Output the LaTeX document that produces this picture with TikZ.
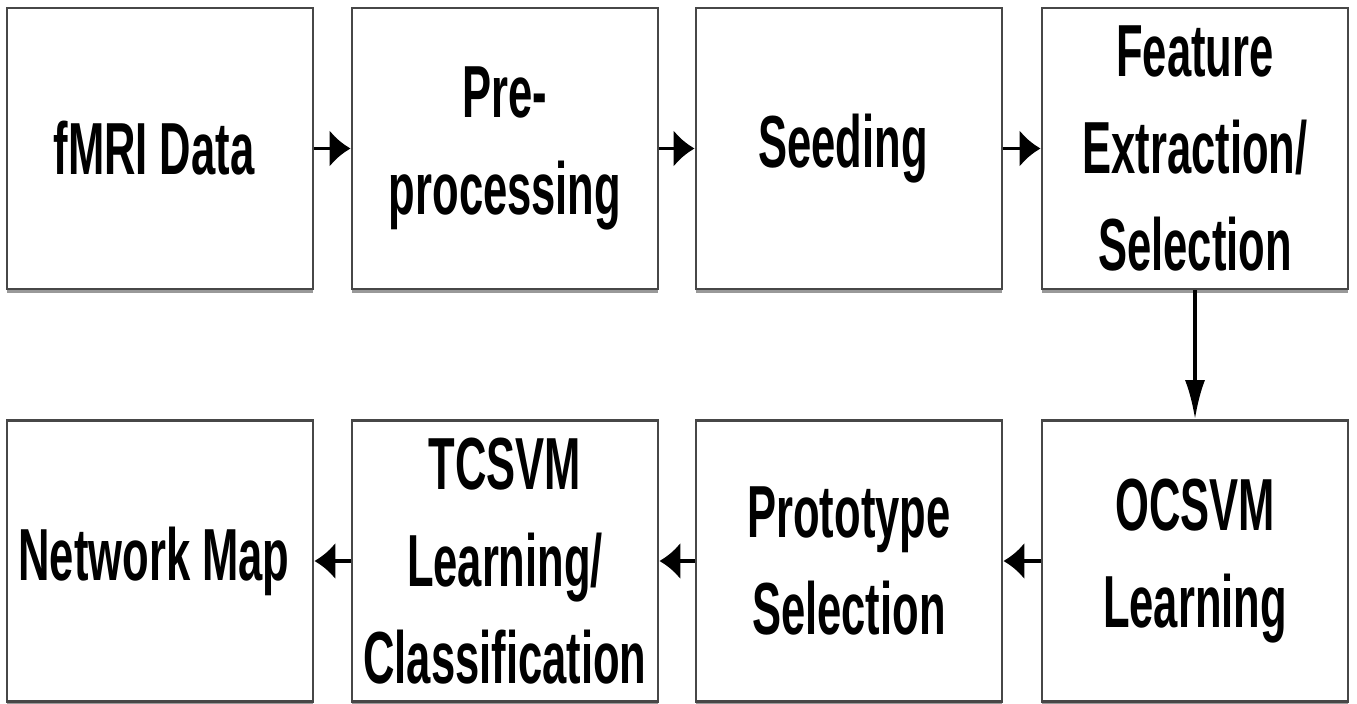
\documentclass[tikz,border=0pt]{standalone}
\usepackage{fontspec}
\newfontfamily\boxfont{Liberation Sans}[FakeStretch=0.59]
\usetikzlibrary{arrows.meta,shadows}

\begin{document}
\begin{tikzpicture}[every path/.style={>={Latex[length=0.42cm,width=0.74cm]}},
  every node/.style={draw=black!72,line width=1.6pt,rectangle,fill=white,
    minimum width=6.12cm,minimum height=5.62cm,align=center,
    font=\boxfont\bfseries\fontsize{42}{55}\selectfont,
    drop shadow={shadow xshift=0pt,shadow yshift=-2.5pt,fill=black!40,opacity=1}}]
\useasboundingbox (0,0) rectangle (27.14,-14.06);
\node            (data)  at (3.2,-2.97)   { fMRI Data };
\node            (pre)   at (10.1,-2.97)  { Pre-\\processing };
\node            (seed)  at (16.98,-2.97) { Seeding };
\node            (feat)  at (23.9,-2.97)  { Feature\\Extraction/\\Selection };
\node            (ocsvm) at (23.9,-11.22) { OCSVM\\Learning };
\node            (proto) at (16.98,-11.22){ Prototype\\Selection };
\node            (tcsvm) at (10.1,-11.22) { TCSVM\\Learning/\\Classification };
\node            (map)   at (3.2,-11.22)  { Network Map };
\draw[->,line width=2pt] (data)  edge (pre);
\draw[->,line width=2pt] (pre)   edge (seed);
\draw[->,line width=2pt] (seed)  edge (feat);
\draw[-{Latex[length=0.78cm,width=0.4cm]},line width=2pt] (feat) edge (ocsvm);
\draw[->,line width=2pt] (ocsvm) edge (proto);
\draw[->,line width=2pt] (proto) edge (tcsvm);
\draw[->,line width=2pt] (tcsvm) edge (map);
\end{tikzpicture}
\end{document}
